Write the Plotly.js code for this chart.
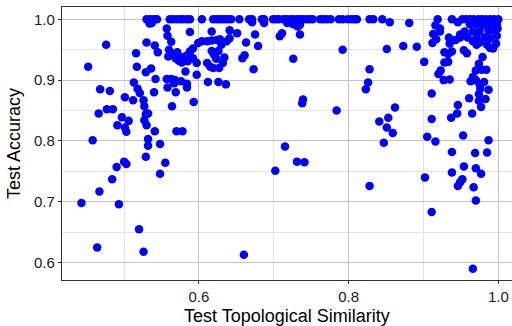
<!DOCTYPE html>
<html>
<head>
<meta charset="utf-8">
<script src="https://cdn.plot.ly/plotly-3.0.1.min.js"></script>
<style>html,body{margin:0;padding:0;background:#fff;}#chart{width:512px;height:326px;}</style>
</head>
<body>
<div id="chart"></div>
<script>
// Left low-similarity runs
const simLeft = [0.443,0.452,0.458,0.464,0.467,0.468,0.466,0.476,0.477,0.485,0.481,0.484,0.490,0.493,0.491,0.497,0.506,0.501,0.503,0.501,0.500,0.503,0.512,0.513,0.518,0.521,0.517,0.516,0.529,0.536,0.530,0.541,0.545,0.542,0.540,0.526,0.527,0.529,0.532,0.527,0.530,0.532,0.532,0.541,0.548,0.529,0.555,0.548,0.520,0.526];
const accLeft = [0.698,0.922,0.801,0.625,0.717,0.885,0.845,0.958,0.852,0.852,0.882,0.737,0.757,0.696,0.826,0.839,0.833,0.822,0.815,0.872,0.766,0.762,0.867,0.896,0.886,0.879,0.922,0.944,0.913,0.919,0.962,0.957,0.946,0.902,0.880,0.867,0.857,0.844,0.845,0.834,0.826,0.803,0.792,0.816,0.795,0.774,0.764,0.746,0.655,0.618];
// Left runs near perfect accuracy
const simLeftTop = [0.530,0.535,0.540,0.544,0.534,0.537,0.561,0.565,0.570,0.575,0.579,0.584,0.588,0.604,0.619,0.623,0.627,0.631,0.635,0.639,0.643,0.654,0.667,0.557,0.558,0.563,0.588,0.560,0.559];
const accLeftTop = [1.0,1.0,1.0,1.0,0.993,0.994,1.0,1.0,1.0,1.0,1.0,1.0,1.0,1.0,1.0,1.0,1.0,1.0,1.0,1.0,1.0,1.0,1.0,0.985,0.973,0.963,0.979,0.950,0.939];
// Cluster around 0.55-0.67 similarity
const simCluster = [0.557,0.563,0.558,0.564,0.569,0.568,0.567,0.576,0.584,0.584,0.582,0.570,0.578,0.593,0.597,0.612,0.626,0.636,0.566,0.571,0.575,0.579,0.583,0.569,0.573,0.587,0.577,0.585,0.588,0.592,0.599,0.604,0.611,0.617,0.624,0.628,0.630,0.617,0.620,0.626,0.634,0.623,0.611,0.615,0.619,0.627,0.632,0.597,0.592,0.658,0.661,0.617,0.641,0.651,0.641,0.637,0.663];
const accCluster = [0.902,0.902,0.888,0.857,0.880,0.900,0.895,0.898,0.894,0.888,0.914,0.816,0.816,0.864,0.909,0.897,0.897,0.893,0.943,0.946,0.938,0.935,0.940,0.936,0.932,0.936,0.929,0.931,0.947,0.952,0.961,0.964,0.964,0.965,0.966,0.967,0.958,0.948,0.942,0.948,0.937,0.935,0.928,0.922,0.920,0.920,0.928,0.928,0.936,0.936,0.941,0.980,0.982,0.977,0.969,0.964,0.962];
// Middle similarity runs
const simMid = [0.671,0.671,0.684,0.687,0.687,0.699,0.703,0.707,0.713,0.717,0.722,0.726,0.731,0.735,0.739,0.744,0.748,0.752,0.762,0.766,0.771,0.776,0.787,0.792,0.799,0.804,0.808,0.811,0.828,0.833,0.845,0.855,0.718,0.726,0.732,0.735,0.711,0.708,0.735,0.675,0.679,0.673,0.726,0.828,0.826,0.823,0.739,0.738,0.792,0.784,0.862,0.853,0.841,0.851,0.859,0.847,0.715,0.731,0.741,0.702,0.828,0.660,0.881,0.873,0.891,0.851];
const accMid = [1.0,0.995,1.0,1.0,0.994,1.0,1.0,1.0,1.0,1.0,1.0,1.0,1.0,1.0,1.0,1.0,1.0,1.0,1.0,1.0,1.0,1.0,1.0,1.0,1.0,1.0,1.0,1.0,1.0,1.0,1.0,0.995,0.994,0.992,0.988,0.991,0.977,0.972,0.975,0.975,0.956,0.918,0.935,0.918,0.896,0.885,0.868,0.862,0.950,0.850,0.855,0.838,0.832,0.822,0.813,0.797,0.791,0.766,0.765,0.751,0.726,0.613,0.994,0.956,0.955,0.951];
// High similarity runs
const simRight = [0.919,0.938,0.946,0.916,0.922,0.913,0.917,0.912,0.934,0.935,0.943,0.949,0.928,0.933,0.938,0.928,0.933,0.923,0.920,0.927,0.935,0.901,0.911,0.911,0.905,0.916,0.938,0.969,0.985,0.953,0.987,0.937,0.945,0.946,0.965,0.961,0.974,0.983,0.977,0.974,0.987,0.981,0.975,0.970,0.963,0.978,0.970,0.974,0.979,0.966,0.954,0.958,0.949,0.984,0.976,0.922];
const accRight = [1.0,1.0,0.995,0.990,0.985,0.976,0.967,0.961,0.970,0.960,0.966,0.975,0.946,0.943,0.947,0.929,0.930,0.916,0.910,0.900,0.901,0.930,0.878,0.836,0.807,0.799,0.782,0.780,0.781,0.809,0.801,0.838,0.845,0.859,0.845,0.870,0.866,0.869,0.856,0.877,0.884,0.897,0.893,0.900,0.898,0.917,0.916,0.927,0.938,0.905,0.949,0.944,0.970,0.917,0.886,0.980];
// High similarity, low accuracy
const simRightLow = [0.902,0.911,0.938,0.954,0.952,0.949,0.946,0.970,0.977,0.967,0.970,0.966];
const accRightLow = [0.740,0.683,0.748,0.758,0.737,0.732,0.726,0.755,0.746,0.724,0.702,0.590];
// High similarity, near perfect accuracy
const simRightTop = [0.952,0.957,0.962,0.967,0.973,0.978,0.983,0.989,0.994,1.0,0.962,0.971,0.980,0.989,0.998,0.955,0.966,0.975,0.987,0.993,0.959,0.971,0.982,0.989,0.966,0.971,0.985,0.993,0.997,0.999,0.998,0.989,0.975];
const accRightTop = [1.0,1.0,1.0,1.0,1.0,1.0,1.0,1.0,1.0,1.0,0.992,0.992,0.990,0.991,0.992,0.980,0.980,0.980,0.981,0.982,0.970,0.970,0.970,0.969,0.964,0.958,0.958,0.952,0.960,0.985,0.973,0.953,0.962];

const xTicks = [0.6, 0.8, 1.0];
const xTickText = ['0.6', '0.8', '1.0'];
const yTicks = [0.6, 0.7, 0.8, 0.9, 1.0];
const yTickText = ['0.6', '0.7', '0.8', '0.9', '1.0'];

const xs = [].concat(simLeft, simLeftTop, simCluster, simMid, simRight, simRightLow, simRightTop);
const ys = [].concat(accLeft, accLeftTop, accCluster, accMid, accRight, accRightLow, accRightTop);

const trace = {
  x: xs, y: ys, type: 'scatter', mode: 'markers',
  marker: {color: '#0000ff', size: 8.5, line: {width: 0}},
  hoverinfo: 'skip'
};

const font = 'Liberation Sans, Arial, sans-serif';
const layout = {
  width: 512, height: 326,
  margin: {l: 62, r: 0, t: 7, b: 46},
  paper_bgcolor: '#ffffff', plot_bgcolor: '#ffffff',
  showlegend: false,
  font: {family: font, color: '#000'},
  xaxis: {
    range: [0.417, 1.0183], autorange: false,
    tickmode: 'array', tickvals: xTicks, ticktext: xTickText,
    tickfont: {family: font, size: 15, color: '#1a1a1a'},
    ticks: 'outside', ticklen: 3, tickcolor: '#333', tickwidth: 1,
    showline: true, linecolor: '#333', linewidth: 1.2, mirror: true,
    showgrid: true, gridcolor: '#c4c4c4', gridwidth: 1,
    minor: {tickmode: 'array', tickvals: [0.5, 0.7, 0.9], showgrid: true, gridcolor: '#e3e3e3', gridwidth: 1, ticks: ''},
    zeroline: false,
    title: {text: 'Test Topological Similarity', font: {family: font, size: 18, color: '#000'}, standoff: 6}
  },
  yaxis: {
    range: [0.5714, 1.0202], autorange: false,
    tickmode: 'array', tickvals: yTicks, ticktext: yTickText,
    tickfont: {family: font, size: 15, color: '#1a1a1a'},
    ticks: 'outside', ticklen: 3, tickcolor: '#333', tickwidth: 1,
    showline: true, linecolor: '#333', linewidth: 1.2,
    showgrid: true, gridcolor: '#c4c4c4', gridwidth: 1,
    minor: {tickmode: 'array', tickvals: [0.65, 0.75, 0.85, 0.95], showgrid: true, gridcolor: '#e3e3e3', gridwidth: 1, ticks: ''},
    zeroline: false,
    title: {text: 'Test Accuracy', font: {family: font, size: 18, color: '#000'}, standoff: 8}
  }
};

Plotly.newPlot('chart', [trace], layout, {displayModeBar: false, staticPlot: true});
</script>
</body>
</html>
